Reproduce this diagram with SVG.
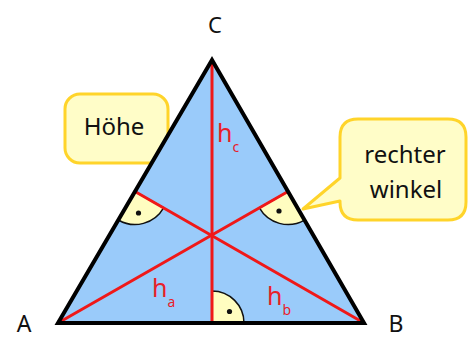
<svg xmlns="http://www.w3.org/2000/svg" width="468" height="340" viewBox="0 0 468 340">
<style>
.callout{fill:#FFFDC8;stroke:#FFD42A;stroke-width:3;stroke-linejoin:round}
.txt{font-family:"Noto Sans","DejaVu Sans",sans-serif;fill:#111}
.lab{font-family:"Noto Sans","DejaVu Sans",sans-serif;fill:#E8202A}
.mark{fill:#FFFDC0;stroke:#111;stroke-width:1.5}
.dot{fill:#111}
.alt{stroke:#F01818;stroke-width:3;fill:none;stroke-linecap:round}
</style>
<rect width="468" height="340" fill="#FFFFFF"/>
<g id="callout-hoehe">
<rect class="callout" x="65" y="94" width="103" height="69" rx="15"/>
<text class="txt" x="114" y="135" font-size="24" text-anchor="middle">Höhe</text>
</g>
<g id="callout-rechter-winkel">
<path class="callout" d="M358,119 H448 Q466,119 466,137 V202 Q466,220 448,220 H358 Q340,220 340,202 V201 L303,209 L340,178 V137 Q340,119 358,119 Z"/>
<text class="txt" x="405" y="163" font-size="24" text-anchor="middle">rechter</text>
<text class="txt" x="406" y="198" font-size="24" text-anchor="middle">winkel</text>
</g>
<g id="triangle">
<polygon points="58,323 364,323 212,60" fill="#9ACBFA"/>
</g>
<g id="right-angle-marks">
<path class="mark" d="M135,191.5 L118.3,220 A33,33 0 0 0 163.6,207.9 Z"/>
<circle class="dot" cx="138.5" cy="213" r="2.6"/>
<path class="mark" d="M288,191.5 L259.4,207.9 A33,33 0 0 0 304.5,220.1 Z"/>
<circle class="dot" cx="279" cy="211" r="2.6"/>
<path class="mark" d="M212,323 L212,291 A32,32 0 0 1 244,323 Z"/>
<circle class="dot" cx="229.5" cy="311.5" r="2.6"/>
</g>
<g id="connectors">
<line class="alt" x1="212" y1="60" x2="212" y2="323"/>
<line class="alt" x1="58" y1="323" x2="288" y2="191.5"/>
<line class="alt" x1="364" y1="323" x2="135" y2="191.5"/>
</g>
<g id="triangle-outline">
<polygon points="58,323 364,323 212,60" fill="none" stroke="#000" stroke-width="4" stroke-linejoin="miter"/>
</g>
<g id="vertex-A"><text class="txt" x="24" y="332" font-size="23" text-anchor="middle">A</text></g>
<g id="vertex-B"><text class="txt" x="396" y="332" font-size="23" text-anchor="middle">B</text></g>
<g id="vertex-C"><text class="txt" x="215" y="33" font-size="22" text-anchor="middle">C</text></g>
<g id="label-ha"><text class="lab" x="152" y="297" font-size="25">h<tspan font-size="14" dy="10">a</tspan></text></g>
<g id="label-hb"><text class="lab" x="267" y="305" font-size="25">h<tspan font-size="14" dy="10">b</tspan></text></g>
<g id="label-hc"><text class="lab" x="217" y="142" font-size="25">h<tspan font-size="14" dy="10">c</tspan></text></g>
</svg>
